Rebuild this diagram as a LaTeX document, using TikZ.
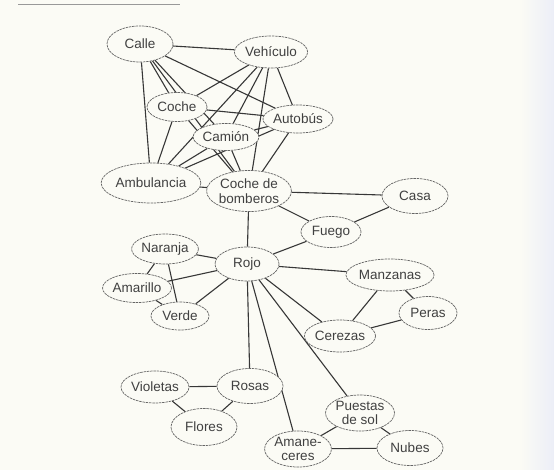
\documentclass[tikz,border=0pt]{standalone}
\usepackage{fontspec}
\setmainfont{Liberation Sans}
\usetikzlibrary{shapes.geometric,backgrounds}
\definecolor{paper}{RGB}{251,251,245}
\definecolor{edgeline}{RGB}{55,55,55}
\definecolor{rimline}{RGB}{100,100,100}
\definecolor{scanblue}{RGB}{236,238,247}
\begin{document}
\begin{tikzpicture}[x=1pt,y=-1pt,
  concept/.style={ellipse,draw=rimline,line width=0.7pt,dash pattern=on 2.5pt off 0.8pt,
    fill=paper,inner sep=0pt,align=center,
    font=\fontsize{13.5}{14.5}\selectfont,text=black!75},
  link/.style={draw=edgeline,line width=1.1pt}]
\useasboundingbox (0,0) rectangle (554,470);

\node[concept,minimum width=66pt,minimum height=36pt] (calle) at (140,44) {Calle};
\node[concept,minimum width=68pt,minimum height=32pt] (veh) at (271,52) {Vehículo};
\node[concept,minimum width=60pt,minimum height=29pt] (coche) at (177,107) {Coche};
\node[concept,minimum width=64pt,minimum height=28pt] (bus) at (298,119) {Autobús};
\node[concept,minimum width=58pt,minimum height=27pt] (camion) at (226,137) {Camión};
\node[concept,minimum width=86pt,minimum height=40pt] (amb) at (151,183) {Ambulancia};
\node[concept,minimum width=78pt,minimum height=41pt] (bomb) at (249,191) {Coche de\\bomberos};
\node[concept,minimum width=66pt,minimum height=35pt] (casa) at (415,196) {Casa};
\node[concept,minimum width=60pt,minimum height=31pt] (fuego) at (331,232) {Fuego};
\node[concept,minimum width=64pt,minimum height=34pt] (rojo) at (247,264) {Rojo};
\node[concept,minimum width=62pt,minimum height=30pt] (naranja) at (165,249) {Naranja};
\node[concept,minimum width=64pt,minimum height=29pt] (amarillo) at (137,288) {Amarillo};
\node[concept,minimum width=58pt,minimum height=28pt] (verde) at (180,316) {Verde};
\node[concept,minimum width=68pt,minimum height=32pt] (manz) at (390,275) {Manzanas};
\node[concept,minimum width=58pt,minimum height=33pt] (peras) at (428,313) {Peras};
\node[concept,minimum width=64pt,minimum height=32pt] (cerezas) at (340,336) {Cerezas};
\node[concept,minimum width=68pt,minimum height=32pt] (violetas) at (155,387) {Violetas};
\node[concept,minimum width=66pt,minimum height=35pt] (rosas) at (250,386) {Rosas};
\node[concept,minimum width=66pt,minimum height=37pt] (flores) at (204,427) {Flores};
\node[concept,minimum width=68pt,minimum height=36pt] (puestas) at (360,413) {Puestas\\de sol};
\node[concept,minimum width=66pt,minimum height=36pt] (aman) at (298,449) {Amane-\\ceres};
\node[concept,minimum width=66pt,minimum height=35pt] (nubes) at (410,448) {Nubes};

\begin{pgfonlayer}{background}
\fill[paper] (0,0) rectangle (554,470);
\shade[left color=paper,right color=scanblue] (520,0) rectangle (554,470);
\draw[black!40,line width=1pt] (18,5) -- (180,5);
\foreach \a/\b in {calle/veh,calle/coche,calle/bus,calle/camion,calle/amb,calle/bomb,
  veh/coche,veh/bus,veh/camion,veh/amb,veh/bomb,
  coche/bus,coche/amb,coche/bomb,
  bus/camion,bus/amb,bus/bomb,
  camion/amb,camion/bomb,amb/bomb,
  bomb/casa,bomb/fuego,casa/fuego,fuego/rojo,bomb/rojo,
  rojo/naranja,rojo/amarillo,rojo/verde,naranja/amarillo,naranja/verde,amarillo/verde,
  rojo/manz,rojo/cerezas,manz/cerezas,manz/peras,cerezas/peras,
  rojo/rosas,rosas/violetas,rosas/flores,violetas/flores,
  rojo/aman,rojo/puestas,puestas/aman,puestas/nubes,aman/nubes}
  \draw[link] (\a) -- (\b);
\end{pgfonlayer}
\end{tikzpicture}
\end{document}
